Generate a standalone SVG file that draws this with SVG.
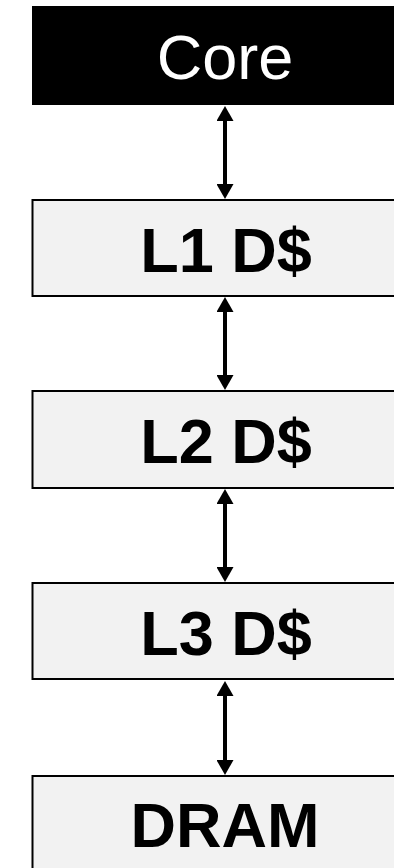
<svg xmlns="http://www.w3.org/2000/svg" width="394" height="868" viewBox="0 0 394 868">
  <style>
    .box { fill: #f2f2f2; stroke: #000; stroke-width: 2; }
    .core { fill: #000; stroke: #000; stroke-width: 1; }
    .label { font-family: "Liberation Sans", Arial, sans-serif; font-size: 63px; text-anchor: middle; }
    .bold { font-weight: bold; fill: #000; }
    .light { fill: #fff; }
    .link { stroke: #000; stroke-width: 4; fill: none; marker-start: url(#head); marker-end: url(#head); }
  </style>
  <defs>
    <!-- arrowhead sits beyond the line end, so shafts stop at the head base -->
    <marker id="head" viewBox="0 0 15 17" refX="0" refY="8.5" markerWidth="15" markerHeight="17" markerUnits="userSpaceOnUse" orient="auto-start-reverse">
      <path d="M0,0 L15,8.5 L0,17 Z" fill="#000"/>
    </marker>
  </defs>
  <rect width="394" height="868" fill="#fff"/>

  <g id="connectors">
    <line class="link" x1="225" y1="121" x2="225" y2="184"/>
    <line class="link" x1="225" y1="312" x2="225" y2="375"/>
    <line class="link" x1="225" y1="504" x2="225" y2="567"/>
    <line class="link" x1="225" y1="696" x2="225" y2="760"/>
  </g>

  <g id="core">
    <rect class="core" x="32.5" y="6.5" width="400" height="98"/>
    <text class="label light" x="225" y="79">Core</text>
  </g>
  <g id="l1">
    <rect class="box" x="32.5" y="200" width="400" height="96"/>
    <text class="label bold" x="226" y="272">L1 D$</text>
  </g>
  <g id="l2">
    <rect class="box" x="32.5" y="391" width="400" height="97"/>
    <text class="label bold" x="226" y="463">L2 D$</text>
  </g>
  <g id="l3">
    <rect class="box" x="32.5" y="583" width="400" height="96"/>
    <text class="label bold" x="226" y="655">L3 D$</text>
  </g>
  <g id="dram">
    <rect class="box" x="32.5" y="776" width="400" height="120"/>
    <text class="label bold" x="225" y="847">DRAM</text>
  </g>
</svg>
